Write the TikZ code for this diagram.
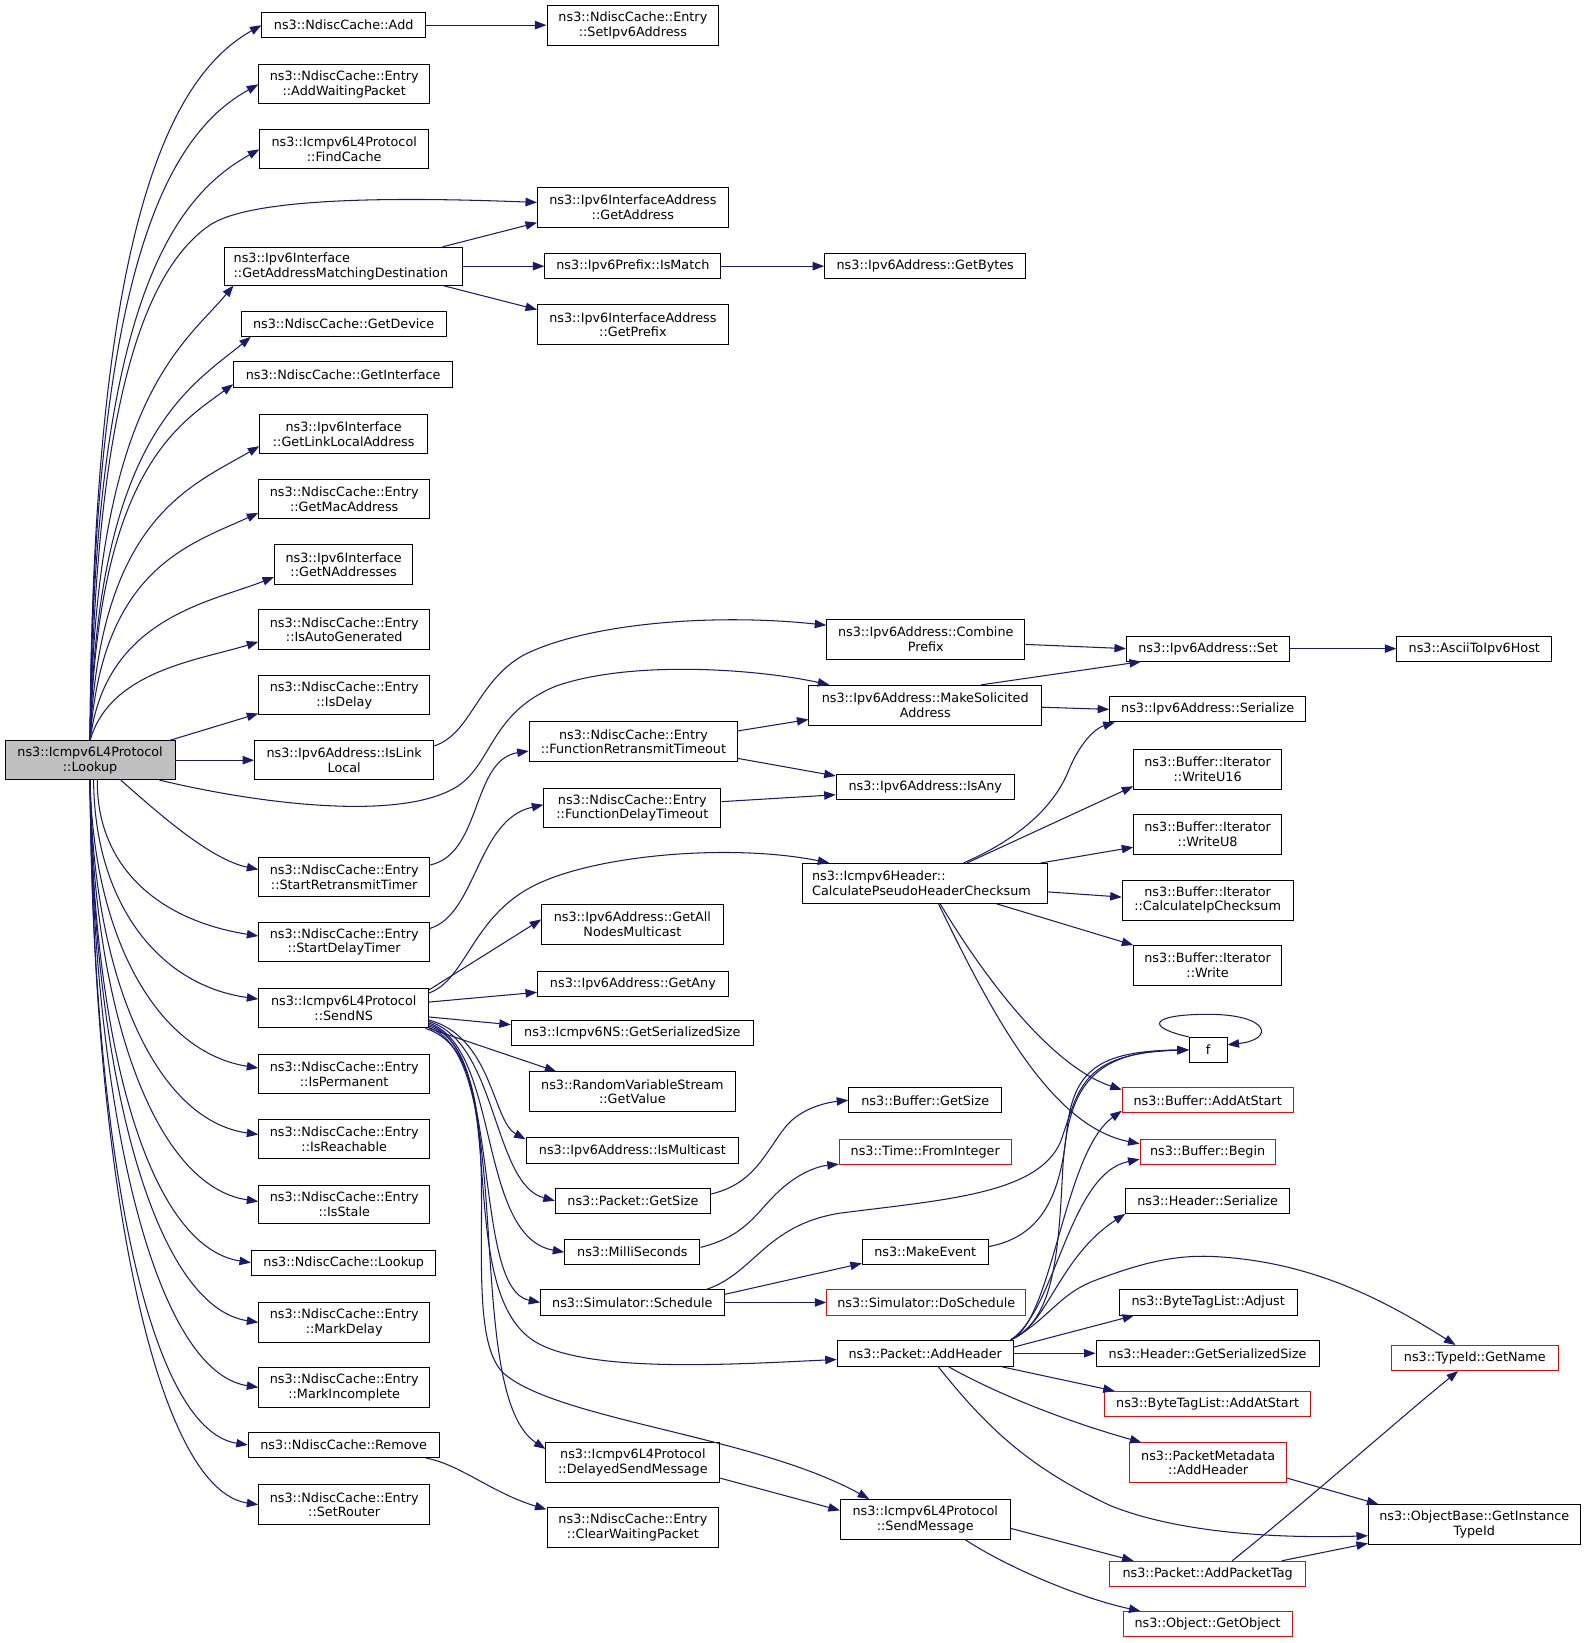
\documentclass[tikz,border=0pt]{standalone}
\usepackage{fontspec}
\newfontfamily\gfontfam{DejaVu Sans}
\usetikzlibrary{arrows.meta}
\definecolor{edgeblue}{HTML}{191970}
\definecolor{rootgray}{HTML}{BFBFBF}
\newcommand\gfont{\gfontfam\fontsize{12.2}{14}\selectfont}
\begin{document}
\begin{tikzpicture}[x=1pt,y=-1pt,
  box/.style={draw=black, line width=0.9pt, fill=white, font=\gfont, inner xsep=3pt, inner ysep=1pt, align=center},
  rbox/.style={box, draw=red},
  sz/.style 2 args={minimum width=#1pt, minimum height=#2pt},
  lbox/.style 2 args={box, align=left, text width=#1pt-18pt, inner xsep=9pt, minimum height=#2pt},
  e/.style={draw=edgeblue, line width=1pt, -{Triangle[length=11pt,width=8pt]}}]
\useasboundingbox (0,0) rectangle (1515,1568);
\fill[white] (0,0) rectangle (1515,1568);
% root
\node[box, fill=rootgray, sz={162}{37}] (root) at (86,725.5) {ns3::Icmpv6L4Protocol\\::Lookup};
% column 1
\node[box, sz={156}{24}] (add) at (328,24) {ns3::NdiscCache::Add};
\node[box, sz={163}{37}] (awp) at (328.5,80.5) {ns3::NdiscCache::Entry\\::AddWaitingPacket};
\node[box, sz={161}{37}] (findcache) at (328.5,142.5) {ns3::Icmpv6L4Protocol\\::FindCache};
\node[lbox={227}{36}] (gamd) at (327.5,254) {ns3::Ipv6Interface\\::GetAddressMatchingDestination};
\node[box, sz={196}{24}] (getdevice) at (328,309) {ns3::NdiscCache::GetDevice};
\node[box, sz={209}{25}] (getinterface) at (327.5,357.5) {ns3::NdiscCache::GetInterface};
\node[box, sz={160}{37}] (getlla) at (328,414.5) {ns3::Ipv6Interface\\::GetLinkLocalAddress};
\node[box, sz={163}{37}] (getmac) at (328.5,476.5) {ns3::NdiscCache::Entry\\::GetMacAddress};
\node[box, sz={132}{38}] (getnaddr) at (328,539) {ns3::Ipv6Interface\\::GetNAddresses};
\node[box, sz={163}{38}] (isauto) at (328.5,601) {ns3::NdiscCache::Entry\\::IsAutoGenerated};
\node[box, sz={163}{37}] (isdelay) at (328.5,663.5) {ns3::NdiscCache::Entry\\::IsDelay};
\node[box, sz={171}{37}] (islinklocal) at (328.5,725.5) {ns3::Ipv6Address::IsLink\\Local};
\node[box, sz={163}{38}] (startretx) at (328.5,837) {ns3::NdiscCache::Entry\\::StartRetransmitTimer};
\node[box, sz={163}{38}] (startdelay) at (328.5,899) {ns3::NdiscCache::Entry\\::StartDelayTimer};
\node[box, sz={162}{38}] (sendns) at (328,962) {ns3::Icmpv6L4Protocol\\::SendNS};
\node[box, sz={163}{38}] (isperm) at (328.5,1025) {ns3::NdiscCache::Entry\\::IsPermanent};
\node[box, sz={163}{38}] (isreach) at (328.5,1087) {ns3::NdiscCache::Entry\\::IsReachable};
\node[box, sz={163}{37}] (isstale) at (328.5,1149.5) {ns3::NdiscCache::Entry\\::IsStale};
\node[box, sz={176}{24}] (ndlookup) at (328,1205) {ns3::NdiscCache::Lookup};
\node[box, sz={163}{38}] (markdelay) at (328.5,1262) {ns3::NdiscCache::Entry\\::MarkDelay};
\node[box, sz={163}{38}] (markincomplete) at (328.5,1324) {ns3::NdiscCache::Entry\\::MarkIncomplete};
\node[box, sz={182}{24}] (remove) at (328,1379) {ns3::NdiscCache::Remove};
\node[box, sz={163}{38}] (setrouter) at (328.5,1436) {ns3::NdiscCache::Entry\\::SetRouter};
% column 2
\node[box, sz={164}{38}] (setipv6) at (604,24) {ns3::NdiscCache::Entry\\::SetIpv6Address};
\node[box, sz={182}{38}] (getaddress) at (604,198) {ns3::Ipv6InterfaceAddress\\::GetAddress};
\node[box, sz={168}{24}] (ismatch) at (604,254) {ns3::Ipv6Prefix::IsMatch};
\node[box, sz={182}{38}] (getprefix) at (604,310) {ns3::Ipv6InterfaceAddress\\::GetPrefix};
\node[box, sz={199}{38}] (funcretx) at (604.5,708) {ns3::NdiscCache::Entry\\::FunctionRetransmitTimeout};
\node[box, sz={169}{38}] (funcdelay) at (603.5,771) {ns3::NdiscCache::Entry\\::FunctionDelayTimeout};
\node[box, sz={173}{38}] (getallnodes) at (603.5,882) {ns3::Ipv6Address::GetAll\\NodesMulticast};
\node[box, sz={182}{24}] (getany) at (604,939) {ns3::Ipv6Address::GetAny};
\node[box, sz={231}{24}] (getserialsize) at (603.5,986) {ns3::Icmpv6NS::GetSerializedSize};
\node[box, sz={197}{38}] (getvalue) at (603.5,1042) {ns3::RandomVariableStream\\::GetValue};
\node[box, sz={203}{24}] (ismulticast) at (603.5,1098) {ns3::Ipv6Address::IsMulticast};
\node[box, sz={148}{24}] (pktgetsize) at (604,1146) {ns3::Packet::GetSize};
\node[box, sz={129}{24}] (millis) at (603.5,1195) {ns3::MilliSeconds};
\node[box, sz={175}{24}] (schedule) at (603.5,1243) {ns3::Simulator::Schedule};
\node[box, sz={166}{38}] (delayedsend) at (604,1396) {ns3::Icmpv6L4Protocol\\::DelayedSendMessage};
\node[box, sz={164}{38}] (clearwaiting) at (604,1458) {ns3::NdiscCache::Entry\\::ClearWaitingPacket};
% column 3
\node[box, sz={192}{24}] (getbytes) at (883,254) {ns3::Ipv6Address::GetBytes};
\node[box, sz={189}{38}] (combine) at (883.5,610) {ns3::Ipv6Address::Combine\\Prefix};
\node[box, sz={222}{38}] (makesolicited) at (883,673) {ns3::Ipv6Address::MakeSolicited\\Address};
\node[box, sz={170}{24}] (isany) at (883,751) {ns3::Ipv6Address::IsAny};
\node[lbox={234}{38}] (calcpseudo) at (883,843) {ns3::Icmpv6Header::\\CalculatePseudoHeaderChecksum};
\node[box, sz={146}{24}] (bufgetsize) at (883,1050) {ns3::Buffer::GetSize};
\node[rbox, sz={164}{24}] (frominteger) at (883,1099.5) {ns3::Time::FromInteger};
\node[box, sz={120}{24}] (makeevent) at (883,1195) {ns3::MakeEvent};
\node[rbox, sz={190}{24}] (doschedule) at (884,1243) {ns3::Simulator::DoSchedule};
\node[box, sz={168}{25}] (addheader) at (883,1291.5) {ns3::Packet::AddHeader};
\node[box, sz={162}{38}] (sendmessage) at (883,1450) {ns3::Icmpv6L4Protocol\\::SendMessage};
% column 4
\node[box, sz={156}{24}] (set) at (1153,619) {ns3::Ipv6Address::Set};
\node[box, sz={187}{24}] (serialize) at (1152.5,677) {ns3::Ipv6Address::Serialize};
\node[box, sz={141}{38}] (writeu16) at (1152.5,734) {ns3::Buffer::Iterator\\::WriteU16};
\node[box, sz={141}{38}] (writeu8) at (1152.5,796) {ns3::Buffer::Iterator\\::WriteU8};
\node[box, sz={163}{38}] (calcip) at (1152.5,859) {ns3::Buffer::Iterator\\::CalculateIpChecksum};
\node[box, sz={141}{38}] (write) at (1152.5,921) {ns3::Buffer::Iterator\\::Write};
\node[box, sz={36}{24}] (f) at (1153,1002) {f};
\node[rbox, sz={163}{24}] (addatstart) at (1152.5,1050) {ns3::Buffer::AddAtStart};
\node[rbox, sz={129}{24}] (begin) at (1152.5,1099.5) {ns3::Buffer::Begin};
\node[box, sz={157}{24}] (hdrserialize) at (1152.5,1146) {ns3::Header::Serialize};
\node[box, sz={170}{24}] (adjust) at (1153,1243) {ns3::ByteTagList::Adjust};
\node[box, sz={213}{25}] (hdrgetsize) at (1152.5,1291.5) {ns3::Header::GetSerializedSize};
\node[rbox, sz={197}{24}] (btladdatstart) at (1152.5,1340) {ns3::ByteTagList::AddAtStart};
\node[rbox, sz={150}{38}] (pmaddheader) at (1153,1396) {ns3::PacketMetadata\\::AddHeader};
\node[rbox, sz={187}{24}] (addpackettag) at (1152.5,1502) {ns3::Packet::AddPacketTag};
\node[rbox, sz={161}{24}] (getobject) at (1152.5,1550) {ns3::Object::GetObject};
% column 5
\node[box, sz={148}{24}] (ascii) at (1407,619) {ns3::AsciiToIpv6Host};
\node[rbox, sz={159}{24}] (getname) at (1407.5,1296) {ns3::TypeId::GetName};
\node[box, sz={202}{38}] (getinstance) at (1407,1455) {ns3::ObjectBase::GetInstance\\TypeId};
% root edges (upward)
\draw[e] (root.north) .. controls (88,194) and (170,69) .. (add.west);
\draw[e] (root.north) .. controls (88,237) and (167,125) .. (awp.west);
\draw[e] (root.north) .. controls (88,284) and (168,187) .. (findcache.west);
\draw[e] (root.north) .. controls (90,450) and (120,270) .. (200,215) .. controls (240,188) and (380,188) .. (getaddress.177);
\draw[e] (root.north) .. controls (90,380) and (175,330) .. (gamd.190.5);
\draw[e] (root.north) .. controls (92,418) and (180,370) .. (getdevice.188);
\draw[e] (root.north) .. controls (93,450) and (170,405) .. (getinterface.185);
\draw[e] (root.north) .. controls (95,496) and (180,465) .. (getlla.188);
\draw[e] (root.north) .. controls (97,543) and (180,520) .. (getmac.189);
\draw[e] (root.north) .. controls (100,590) and (200,575) .. (getnaddr.190);
\draw[e] (root.north) .. controls (105,640) and (190,630) .. (isauto.188);
\draw[e] (root.14) -- (isdelay.192);
\draw[e] (root.east) -- (islinklocal.west);
% root edges (downward)
\draw[e] (root.-16) .. controls (250,768) and (390,785) .. (440,748) .. controls (470,725) and (470,680) .. (530,655) .. controls (600,630) and (720,638) .. (makesolicited.168);
\draw[e] (root.-33) .. controls (150,775) and (200,820) .. (startretx.175);
\draw[e] (root.-70) .. controls (92,826) and (150,878) .. (startdelay.176);
\draw[e] (root.-80) .. controls (90,860) and (150,940) .. (sendns.174);
\draw[e] (root.south) .. controls (89,895) and (150,1004) .. (isperm.176);
\draw[e] (root.south) .. controls (88,931) and (148,1069) .. (isreach.177);
\draw[e] (root.south) .. controls (88,966) and (148,1132) .. (isstale.178);
\draw[e] (root.south) .. controls (88,997) and (142,1190) .. (ndlookup.west);
\draw[e] (root.south) .. controls (88,1029) and (148,1247) .. (markdelay.west);
\draw[e] (root.south) .. controls (88,1063) and (148,1309) .. (markincomplete.west);
\draw[e] (root.south) .. controls (88,1093) and (140,1364) .. (remove.west);
\draw[e] (root.south) .. controls (88,1125) and (148,1421) .. (setrouter.west);
% column 1 -> 2
\draw[e] (add.east) -- (setipv6.west);
\draw[e] (gamd.11) -- (getaddress.189);
\draw[e] (gamd.east) -- (ismatch.west);
\draw[e] (gamd.-11) -- (getprefix.171);
\draw[e] (ismatch.east) -- (getbytes.west);
\draw[e] (islinklocal.9) .. controls (450,700) and (455,650) .. (500,625) .. controls (560,595) and (680,585) .. (combine.172);
\draw[e] (startretx.8) .. controls (460,815) and (450,725) .. (funcretx.185);
\draw[e] (startdelay.9) .. controls (455,872) and (455,782) .. (funcdelay.178);
\draw[e] (remove.-9.5) .. controls (440,1398) and (470,1425) .. (clearwaiting.168);
% SendNS
\draw[e] (sendns.10) .. controls (445,935) and (450,875) .. (510,845) .. controls (570,815) and (700,805) .. (calcpseudo.168);
\draw[e] (sendns.12) -- (getallnodes.177);
\draw[e] (sendns.4) -- (getany.185);
\draw[e] (sendns.-6) -- (getserialsize.176);
\draw[e] (sendns.south east) -- (getvalue.165);
\draw[e] (sendns.-8) .. controls (470,990) and (470,1070) .. (ismulticast.174);
\draw[e] (sendns.-9) .. controls (475,995) and (470,1130) .. (pktgetsize.west);
\draw[e] (sendns.-10) .. controls (478,1000) and (455,1180) .. (millis.west);
\draw[e] (sendns.-11) .. controls (480,1000) and (450,1230) .. (schedule.west);
\draw[e] (sendns.-12) .. controls (490,1005) and (430,1230) .. (510,1280) .. controls (560,1311) and (700,1302) .. (addheader.184);
\draw[e] (sendns.-13) .. controls (495,1010) and (440,1330) .. (delayedsend.171);
\draw[e] (sendns.-14) .. controls (500,1010) and (430,1260) .. (480,1310) .. controls (530,1355) and (720,1370) .. (sendmessage.160);
% column 2 -> 3
\draw[e] (funcretx.6) -- (makesolicited.187);
\draw[e] (funcretx.-9) -- (isany.173);
\draw[e] (funcdelay.4) -- (isany.185);
\draw[e] (pktgetsize.5) .. controls (720,1130) and (730,1100) .. (750,1075) .. controls (765,1057) and (790,1052) .. (bufgetsize.west);
\draw[e] (millis.4) .. controls (710,1180) and (720,1160) .. (740,1140) .. controls (760,1120) and (780,1113) .. (frominteger.188);
\draw[e] (schedule.10) .. controls (720,1215) and (730,1170) .. (800,1158) .. controls (900,1145) and (990,1140) .. (1012,1090) .. controls (1030,1040) and (1030,1005) .. (f.west);
\draw[e] (schedule.5) -- (makeevent.190);
\draw[e] (schedule.east) -- (doschedule.west);
\draw[e] (delayedsend.-10) -- (sendmessage.174);
% column 3 -> 4
\draw[e] (combine.-3) -- (set.west);
\draw[e] (makesolicited.20) -- (set.191);
\draw[e] (makesolicited.-1.5) -- (serialize.west);
\draw[e] (set.east) -- (ascii.west);
\draw[e] (calcpseudo.28) .. controls (985,795) and (1010,760) .. (1020,735) .. controls (1030,710) and (1045,695) .. (serialize.188);
\draw[e] (calcpseudo.26) -- (writeu16.193);
\draw[e] (calcpseudo.10) -- (writeu8.190);
\draw[e] (calcpseudo.-4) -- (calcip.178);
\draw[e] (calcpseudo.-16) -- (write.165);
\draw[e] (calcpseudo.-54) .. controls (950,950) and (1010,1020) .. (addatstart.173);
\draw[e] (calcpseudo.-57) .. controls (950,975) and (1005,1075) .. (begin.173);
\draw[e] (makeevent.5) .. controls (995,1180) and (1012,1140) .. (1018,1080) .. controls (1024,1020) and (1050,1003) .. (f.west);
\draw[e] (addheader.9) .. controls (1005,1260) and (1010,1200) .. (1014,1120) .. controls (1018,1040) and (1040,1003) .. (f.west);
\draw[e] (addheader.9) .. controls (1005,1260) and (1015,1100) .. (addatstart.187);
\draw[e] (addheader.9) .. controls (1008,1250) and (1020,1120) .. (begin.186);
\draw[e] (addheader.9) .. controls (1000,1265) and (1010,1200) .. (hdrserialize.189);
\draw[e] (addheader.9) .. controls (1000,1260) and (1010,1235) .. (1045,1222) .. controls (1090,1205) and (1120,1198) .. (1155,1199) .. controls (1250,1203) and (1320,1240) .. (getname.146);
\draw[e] (addheader.4) -- (adjust.190);
\draw[e] (addheader.east) -- (hdrgetsize.west);
\draw[e] (addheader.-10) -- (btladdatstart.172);
\draw[e] (addheader.-30) .. controls (960,1335) and (1030,1360) .. (pmaddheader.163);
\draw[e] (addheader.-46) .. controls (940,1360) and (980,1400) .. (1060,1437) .. controls (1130,1465) and (1230,1468) .. (getinstance.186);
\draw[e] (sendmessage.-6) -- (addpackettag.170);
\draw[e] (sendmessage.-27) .. controls (960,1495) and (1030,1525) .. (getobject.169);
% column 4 -> 5
\draw[e] (f.north west) .. controls (1092,980) and (1098,968) .. (1153,968) .. controls (1212,968) and (1217,992) .. (f.15);
\draw[e] (pmaddheader.-11) -- (getinstance.168);
\draw[e] (addpackettag.28) .. controls (1250,1430) and (1340,1350) .. (getname.218);
\draw[e] (addpackettag.10) -- (getinstance.190);
\end{tikzpicture}
\end{document}
